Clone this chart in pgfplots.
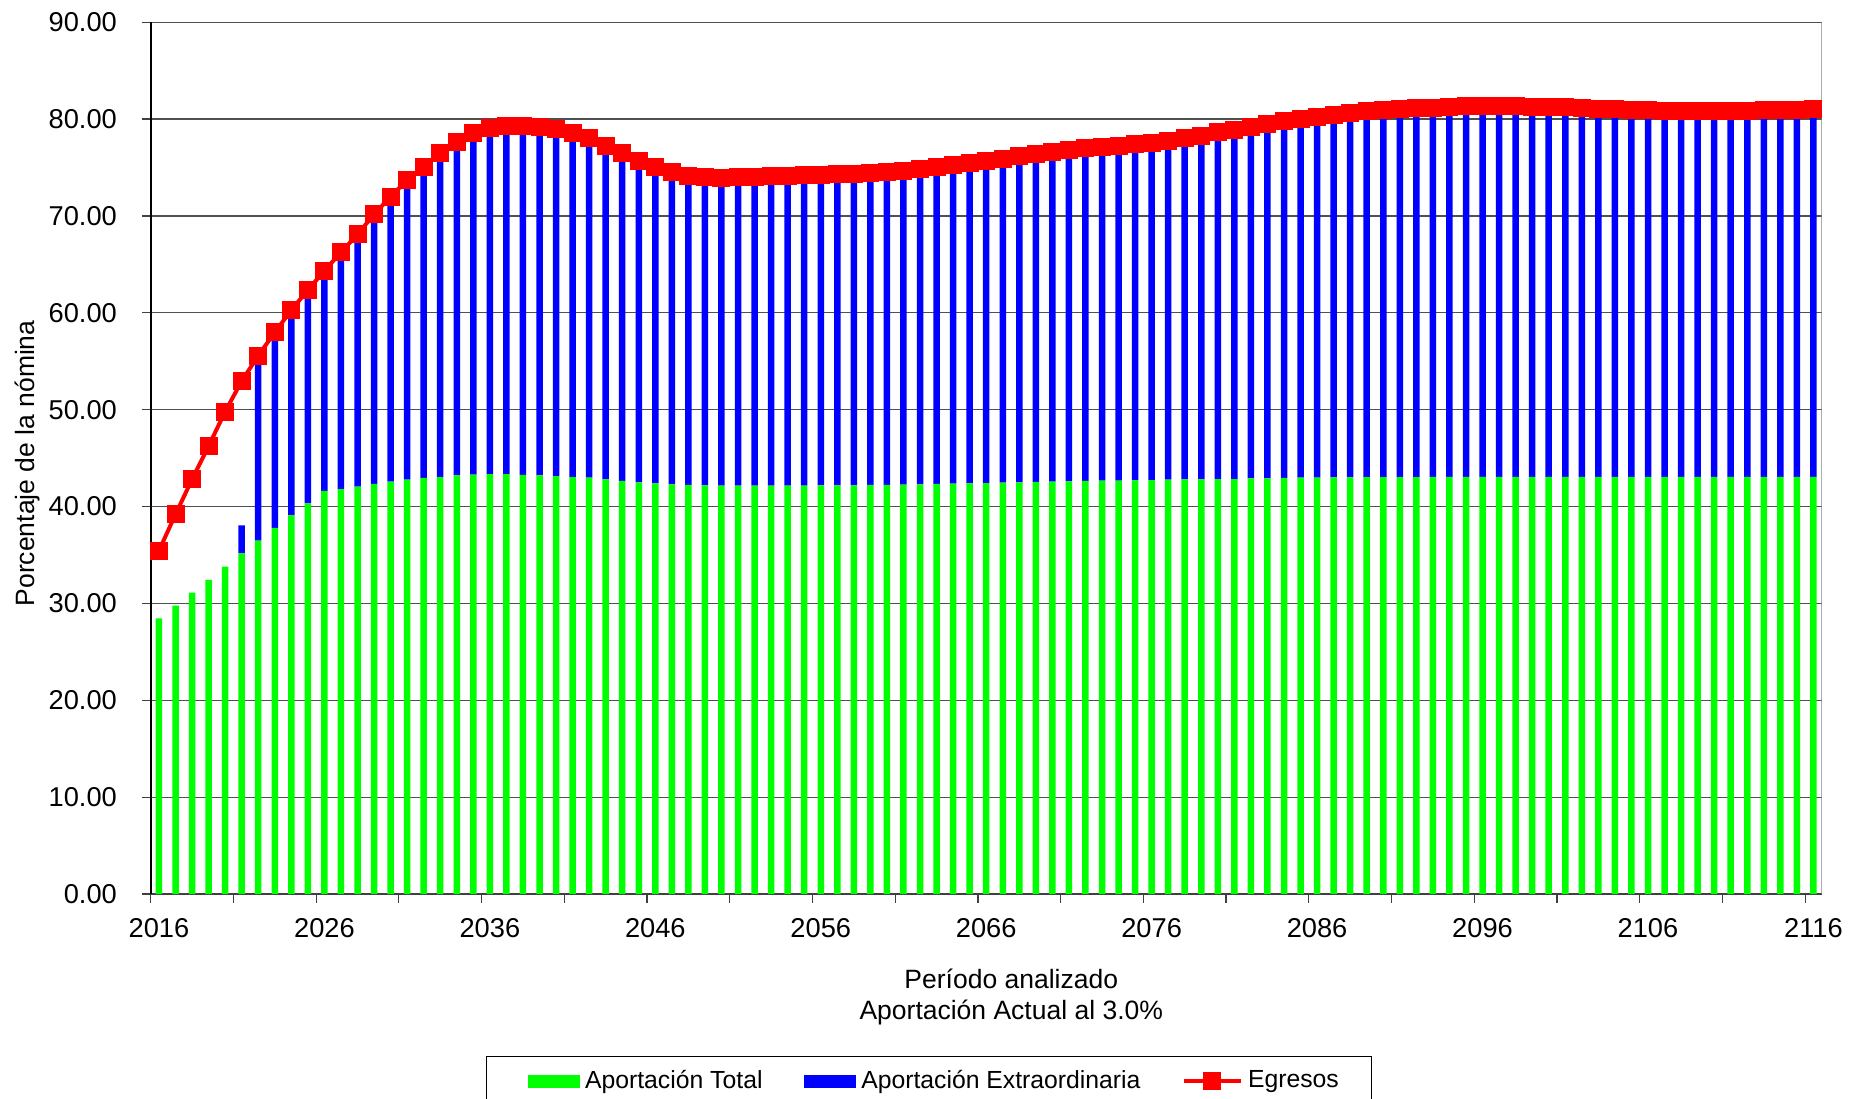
\documentclass[border=0pt]{standalone}
\usepackage{fontspec}
\setmainfont{Liberation Sans}
\usepackage{pgfplots}
\usepackage{pgfplotstable}
\pgfplotsset{compat=1.18}
\definecolor{gA}{RGB}{0,255,0}
\definecolor{bA}{RGB}{0,0,255}
\definecolor{rA}{RGB}{255,0,0}
\definecolor{gridc}{RGB}{80,80,80}

\pgfplotstableread{
year G E B
2016 28.46 35.45 0
2017 29.77 39.20 0
2018 31.11 42.81 0
2019 32.42 46.25 0
2020 33.79 49.80 0
2021 35.17 52.96 2.89
2022 36.48 55.58 19.10
2023 37.79 57.99 20.20
2024 39.10 60.29 21.19
2025 40.33 62.36 22.03
2026 41.61 64.35 22.74
2027 41.81 66.25 24.44
2028 42.05 68.10 26.05
2029 42.33 70.17 27.84
2030 42.57 71.99 29.42
2031 42.78 73.71 30.93
2032 42.95 75.09 32.14
2033 43.05 76.47 33.42
2034 43.22 77.67 34.45
2035 43.29 78.53 35.24
2036 43.36 79.05 35.69
2037 43.36 79.29 35.93
2038 43.26 79.29 36.03
2039 43.22 79.15 35.93
2040 43.15 78.95 35.80
2041 43.05 78.60 35.55
2042 42.98 78.08 35.10
2043 42.81 77.26 34.45
2044 42.64 76.47 33.83
2045 42.50 75.67 33.17
2046 42.40 75.02 32.62
2047 42.30 74.50 32.20
2048 42.23 74.16 31.93
2049 42.19 73.99 31.80
2050 42.16 73.95 31.79
2051 42.16 73.99 31.83
2052 42.16 74.06 31.90
2053 42.16 74.13 31.97
2054 42.16 74.16 32.00
2055 42.16 74.23 32.07
2056 42.19 74.27 32.08
2057 42.19 74.30 32.11
2058 42.19 74.37 32.18
2059 42.23 74.44 32.21
2060 42.23 74.54 32.31
2061 42.26 74.68 32.42
2062 42.30 74.82 32.52
2063 42.33 75.02 32.69
2064 42.36 75.26 32.90
2065 42.40 75.47 33.07
2066 42.43 75.71 33.28
2067 42.47 75.92 33.45
2068 42.50 76.16 33.66
2069 42.54 76.40 33.86
2070 42.57 76.60 34.03
2071 42.60 76.81 34.21
2072 42.64 76.98 34.34
2073 42.67 77.08 34.41
2074 42.67 77.26 34.59
2075 42.71 77.40 34.69
2076 42.74 77.57 34.83
2077 42.78 77.77 34.99
2078 42.81 78.02 35.21
2079 42.81 78.30 35.49
2080 42.84 78.64 35.80
2081 42.84 78.90 36.06
2082 42.91 79.22 36.31
2083 42.91 79.50 36.59
2084 42.95 79.77 36.82
2085 42.98 80.01 37.03
2086 43.00 80.25 37.25
2087 43.01 80.46 37.45
2088 43.02 80.63 37.61
2089 43.03 80.84 37.81
2090 43.04 80.94 37.90
2091 43.05 81.05 38.00
2092 43.05 81.12 38.07
2093 43.06 81.18 38.12
2094 43.06 81.25 38.19
2095 43.07 81.32 38.25
2096 43.07 81.32 38.25
2097 43.07 81.32 38.25
2098 43.07 81.32 38.25
2099 43.07 81.29 38.22
2100 43.07 81.29 38.22
2101 43.07 81.22 38.15
2102 43.07 81.15 38.08
2103 43.07 81.08 38.01
2104 43.07 81.01 37.94
2105 43.07 80.94 37.87
2106 43.07 80.91 37.84
2107 43.07 80.87 37.80
2108 43.07 80.84 37.77
2109 43.07 80.84 37.77
2110 43.07 80.84 37.77
2111 43.07 80.84 37.77
2112 43.07 80.87 37.80
2113 43.07 80.91 37.84
2114 43.07 80.94 37.87
2115 43.07 80.97 37.90
2116 43.07 81.01 37.94
}\datatab

\pgfplotsset{
  redlegend/.style={legend image code/.code={\draw[##1, mark repeat=2, mark phase=2] plot coordinates {(0pt,0pt) (11.45pt,0pt) (22.9pt,0pt)};}},
}

\begin{document}
\begin{tikzpicture}
\path[use as bounding box] (-60.28pt,-81.6pt) rectangle (686.12pt,357.6pt);
\clip (-60.28pt,-81.6pt) rectangle (686.12pt,357.6pt);
\begin{axis}[
  at={(0pt,0pt)}, anchor=south west,
  scale only axis, width=668.4pt, height=348.7pt,
  xmin=2015.5, xmax=2116.5, ymin=0, ymax=90,
  ybar stacked, bar width=2.6pt,
  axis x line*=bottom, axis y line*=left,
  x axis line style={draw=black!75, line width=0.7pt},
  y axis line style={draw=black, line width=0.8pt},
  ytick={0,10,...,90},
  ymajorgrids, major grid style={draw=gridc, line width=0.5pt},
  xtick={2015.5,2020.5,...,2115.5},
  xticklabel={\mbox{}},
  extra x ticks={2016,2026,...,2116},
  extra x tick labels={2016,2026,2036,2046,2056,2066,2076,2086,2096,2106,2116},
  extra x tick style={major tick length=0pt},
  tick align=outside, major tick length=3.5pt,
  tick style={draw=black!75, line width=0.5pt},
  /pgf/number format/assume math mode=true,
  tick label style={font=\fontsize{10.9}{13}\selectfont},
  yticklabel style={/pgf/number format/fixed, /pgf/number format/fixed zerofill, /pgf/number format/precision=2, xshift=-6.5pt},
  xticklabel style={yshift=-6.1pt},
  ylabel={Porcentaje de la nómina},
  every axis y label/.style={at={(axis description cs:-0.0738,0.494)}, rotate=90, anchor=center, font=\fontsize{10.6}{12}\selectfont},
  xlabel={Período analizado\\Aportación Actual al 3.0\%},
  every axis x label/.style={at={(axis description cs:0.515,-0.118)}, anchor=center, align=center, font=\fontsize{10.6}{12.4}\selectfont},
]
\addplot[fill=gA, draw=none] table[x=year, y=G] {\datatab};
\addplot[fill=bA, draw=none] table[x=year, y=B] {\datatab};
\draw[gray, line width=0.6pt] (rel axis cs:1,0) -- (rel axis cs:1,1);
\end{axis}
\begin{axis}[
  at={(0pt,0pt)}, anchor=south west,
  scale only axis, width=668.4pt, height=348.7pt,
  xmin=2015.5, xmax=2116.5, ymin=0, ymax=90,
  hide axis,
  legend columns=3,
  legend cell align=left,
  legend style={at={(axis description cs:0.4658,-0.1858)}, anchor=north, draw=black, line width=0.5pt, font=\fontsize{9.9}{11}\selectfont, inner xsep=11pt, inner ysep=3.5pt, /tikz/every even column/.append style={column sep=14.5pt}},
]
\addlegendimage{legend image code/.code={\path (0pt,0pt); \fill[gA] (5.3pt,-2.4pt) rectangle (25.8pt,2.4pt);}}
\addlegendentry{Aportación Total}
\addlegendimage{legend image code/.code={\fill[bA] (0pt,-2.4pt) rectangle (20.5pt,2.4pt);}}
\addlegendentry{Aportación Extraordinaria}
\addplot[rA, line width=1.6pt, mark=square*, mark size=2.8pt, mark options={draw=none, fill=rA}, redlegend]
  table[x=year, y=E] {\datatab};
\addlegendentry{Egresos}
\end{axis}
\end{tikzpicture}
\end{document}
